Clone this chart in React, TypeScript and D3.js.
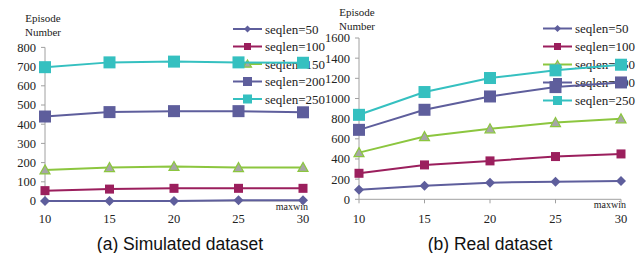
import React, { useRef, useEffect } from 'react';
import * as d3 from 'd3';

const maxwin = [10, 15, 20, 25, 30];
const seriesNames = ['seqlen=50', 'seqlen=100', 'seqlen=150', 'seqlen=200', 'seqlen=250'];

// (a) Simulated dataset
const simSeq50 = [0, 0, 0, 4, 4];
const simSeq100 = [54, 62, 66, 66, 66];
const simSeq150 = [162, 174, 180, 174, 175];
const simSeq200 = [440, 463, 468, 468, 462];
const simSeq250 = [697, 722, 726, 722, 720];

// (b) Real dataset
const realSeq50 = [95, 135, 165, 175, 182];
const realSeq100 = [258, 341, 381, 424, 450];
const realSeq150 = [463, 622, 699, 761, 798];
const realSeq200 = [689, 888, 1020, 1113, 1159];
const realSeq250 = [838, 1064, 1203, 1279, 1335];

const simTicks = [0, 100, 200, 300, 400, 500, 600, 700, 800];
const realTicks = [0, 200, 400, 600, 800, 1000, 1200, 1400, 1600];

const styles = [
  { line: '#5e5e9c', fill: '#5e5e9c', stroke: '#5e5e9c', shape: 'diamond', size: 9, lsize: 6 },
  { line: '#9b1f5d', fill: '#9b1f5d', stroke: '#9b1f5d', shape: 'square', size: 9, lsize: 7 },
  { line: '#8cc63f', fill: '#a6a6a6', stroke: '#8cc63f', shape: 'triangle', size: 10, lsize: 8 },
  { line: '#5e5e9c', fill: '#5e5e9c', stroke: '#5e5e9c', shape: 'square', size: 12, lsize: 9 },
  { line: '#35c0c0', fill: '#35c0c0', stroke: '#35c0c0', shape: 'square', size: 12, lsize: 9 },
];

const serif = '"Liberation Serif", "Times New Roman", serif';

function drawMarker(g, shape, x, y, s, fill, stroke) {
  if (shape === 'square') {
    g.append('rect').attr('x', x - s / 2).attr('y', y - s / 2)
      .attr('width', s).attr('height', s).attr('fill', fill);
  } else if (shape === 'diamond') {
    const h = s / 2 + 0.5;
    g.append('path')
      .attr('d', `M${x},${y - h}L${x + h},${y}L${x},${y + h}L${x - h},${y}Z`)
      .attr('fill', fill);
  } else {
    const h = s / 2;
    g.append('path')
      .attr('d', `M${x},${y - h}L${x + h},${y + h * 0.8}L${x - h},${y + h * 0.8}Z`)
      .attr('fill', fill).attr('stroke', stroke).attr('stroke-width', 1.2);
  }
}

const Panel = ({ svgRef, series, ticks, geo, title }) => {
  useEffect(() => {
    const root = d3.select(svgRef.current).append('g');
    const x = d3.scaleLinear().domain([10, 30]).range([geo.x0, geo.x1]);
    const y = d3.scaleLinear().domain([0, ticks[ticks.length - 1]]).range([geo.y0, geo.y1]);

    // y axis
    root.append('line').attr('x1', geo.x0).attr('x2', geo.x0)
      .attr('y1', y(0)).attr('y2', y(ticks[ticks.length - 1]))
      .attr('stroke', '#a0a0a0').attr('stroke-width', 1);
    ticks.forEach(t => {
      root.append('line').attr('x1', geo.x0 - 4).attr('x2', geo.x0)
        .attr('y1', y(t)).attr('y2', y(t)).attr('stroke', '#a0a0a0');
      root.append('text').attr('x', geo.x0 - 9).attr('y', y(t)).attr('dy', '0.35em')
        .attr('text-anchor', 'end').attr('font-family', serif).attr('font-size', 12.5)
        .attr('fill', '#222').text(t);
    });

    // x axis
    root.append('line').attr('x1', geo.x0).attr('x2', geo.x1)
      .attr('y1', y(0)).attr('y2', y(0)).attr('stroke', '#a0a0a0');
    maxwin.forEach(v => {
      root.append('line').attr('x1', x(v)).attr('x2', x(v))
        .attr('y1', y(0)).attr('y2', y(0) + 4).attr('stroke', '#a0a0a0');
      root.append('text').attr('x', x(v)).attr('y', 223).attr('text-anchor', 'middle')
        .attr('font-family', serif).attr('font-size', 12.5).attr('fill', '#222').text(v);
    });
    root.append('text').attr('x', geo.x1 + 5).attr('y', y(0) + 9).attr('text-anchor', 'end')
      .attr('font-family', serif).attr('font-size', 10).attr('fill', '#222').text('maxwin');

    // y title
    root.append('text').attr('x', geo.x0 - 2).attr('y', geo.ty).attr('text-anchor', 'middle')
      .attr('font-family', serif).attr('font-size', 11).attr('fill', '#222').text('Episode');
    root.append('text').attr('x', geo.x0 - 2).attr('y', geo.ty + 14).attr('text-anchor', 'middle')
      .attr('font-family', serif).attr('font-size', 11).attr('fill', '#222').text('Number');

    // legend
    seriesNames.forEach((name, i) => {
      const st = styles[i];
      const ly = geo.ly + i * geo.lstep;
      root.append('line').attr('x1', geo.lx).attr('x2', geo.lx + 29)
        .attr('y1', ly).attr('y2', ly).attr('stroke', st.line).attr('stroke-width', 2);
      drawMarker(root, st.shape, geo.lx + 14.5, ly, st.lsize, st.fill, st.stroke);
      root.append('text').attr('x', geo.lx + 32).attr('y', ly).attr('dy', '0.35em')
        .attr('font-family', serif).attr('font-size', 13).attr('fill', '#222').text(name);
    });

    // series
    const line = d3.line<number>().x((d, i) => x(maxwin[i])).y(d => y(d));
    series.forEach((vals, i) => {
      const st = styles[i];
      root.append('path').attr('d', line(vals)).attr('fill', 'none')
        .attr('stroke', st.line).attr('stroke-width', 2);
      vals.forEach((v, j) => drawMarker(root, st.shape, x(maxwin[j]), y(v), st.size, st.fill, st.stroke));
    });

    // panel title
    root.append('text').attr('x', geo.cx).attr('y', 250).attr('text-anchor', 'middle')
      .attr('font-family', '"Liberation Sans", Arial, sans-serif').attr('font-size', 17.5)
      .attr('fill', '#111').text(title);

    return () => { root.remove(); };
  }, []);
  return null;
};

const App = () => {
  const svgRef = useRef(null);
  const [ready, setReady] = React.useState(false);
  useEffect(() => { setReady(true); }, []);
  return (
    <svg ref={svgRef} width={636} height={253}
      style={{ position: 'absolute', left: 0, top: 0, background: '#fff' }}>
      {ready && (
        <>
          <Panel svgRef={svgRef}
            series={[simSeq50, simSeq100, simSeq150, simSeq200, simSeq250]}
            ticks={simTicks}
            geo={{ x0: 45, x1: 303, y0: 201, y1: 47.4, ty: 22, lx: 233, ly: 29, lstep: 17.5, cx: 180 }}
            title="(a) Simulated dataset" />
          <Panel svgRef={svgRef}
            series={[realSeq50, realSeq100, realSeq150, realSeq200, realSeq250]}
            ticks={realTicks}
            geo={{ x0: 359, x1: 621, y0: 199.3, y1: 38, ty: 16, lx: 543, ly: 28.5, lstep: 18, cx: 490 }}
            title="(b) Real dataset" />
        </>
      )}
    </svg>
  );
};

export default App;
